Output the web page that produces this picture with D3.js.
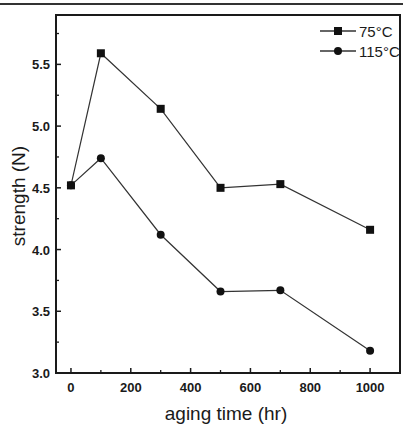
<!DOCTYPE html>
<html>
<head>
<meta charset="utf-8">
<script src="https://cdn.jsdelivr.net/npm/d3@7"></script>
<style>
  body { margin: 0; background: #fff; }
  svg { display: block; font-family: "Liberation Sans", Arial, sans-serif; }
</style>
</head>
<body>
<svg id="chart" width="403" height="427"></svg>
<script>
// aging time (hr) and strength (N) for each temperature
const hours = [0, 100, 300, 500, 700, 1000];
const strength75 = [4.52, 5.59, 5.14, 4.50, 4.53, 4.16];
const strength115 = [4.52, 4.74, 4.12, 3.66, 3.67, 3.18];
const seriesNames = ['75°C', '115°C'];
const xTicks = [0, 200, 400, 600, 800, 1000];
const yTicks = [3.0, 3.5, 4.0, 4.5, 5.0, 5.5];

const margin = { top: 15, right: 3, bottom: 54, left: 56 };
const width = 403, height = 427;
const innerW = width - margin.left - margin.right;
const innerH = height - margin.top - margin.bottom;

const svg = d3.select('#chart');
const ink = '#1a1a1a';

// rule at the very top of the scan
svg.append('line')
    .attr('x1', 0).attr('x2', width)
    .attr('y1', 4).attr('y2', 4)
    .attr('stroke', '#333').attr('stroke-width', 2);

const chart = svg.append('g')
    .attr('transform', `translate(${margin.left}, ${margin.top})`);

const xscale = d3.scaleLinear().domain([-50, 1100]).range([0, innerW]);
const yscale = d3.scaleLinear().domain([3.0, 5.9]).range([innerH, 0]);

// minor ticks
const xMinor = d3.range(100, 1100, 200);
const yMinor = d3.range(3.25, 5.9, 0.5);

chart.append('g').selectAll('line')
    .data(xTicks)
    .join('line')
    .attr('x1', d => xscale(d)).attr('x2', d => xscale(d))
    .attr('y1', innerH).attr('y2', innerH - 5)
    .attr('stroke', ink).attr('stroke-width', 1.5);
chart.append('g').selectAll('line')
    .data(xMinor)
    .join('line')
    .attr('x1', d => xscale(d)).attr('x2', d => xscale(d))
    .attr('y1', innerH).attr('y2', innerH - 3)
    .attr('stroke', ink).attr('stroke-width', 1.3);
chart.append('g').selectAll('line')
    .data(yTicks)
    .join('line')
    .attr('x1', 0).attr('x2', 5)
    .attr('y1', d => yscale(d)).attr('y2', d => yscale(d))
    .attr('stroke', ink).attr('stroke-width', 1.5);
chart.append('g').selectAll('line')
    .data(yMinor)
    .join('line')
    .attr('x1', 0).attr('x2', 3)
    .attr('y1', d => yscale(d)).attr('y2', d => yscale(d))
    .attr('stroke', ink).attr('stroke-width', 1.3);

// frame
chart.append('rect')
    .attr('x', 0).attr('y', 0)
    .attr('width', innerW).attr('height', innerH)
    .attr('fill', 'none')
    .attr('stroke', ink).attr('stroke-width', 2);

// tick labels
chart.append('g').selectAll('text')
    .data(xTicks)
    .join('text')
    .attr('x', d => xscale(d))
    .attr('y', innerH + 19)
    .attr('text-anchor', 'middle')
    .attr('font-size', 13).attr('font-weight', 'bold')
    .attr('fill', ink)
    .text(d => d);
chart.append('g').selectAll('text')
    .data(yTicks)
    .join('text')
    .attr('x', -6)
    .attr('y', d => yscale(d) + 5)
    .attr('text-anchor', 'end')
    .attr('font-size', 13).attr('font-weight', 'bold')
    .attr('fill', ink)
    .text(d => d.toFixed(1));

// axis titles
svg.append('text')
    .attr('x', margin.left + innerW / 2 - 2)
    .attr('y', 420)
    .attr('text-anchor', 'middle')
    .attr('font-size', 19)
    .attr('fill', ink)
    .text('aging time (hr)');
svg.append('text')
    .attr('transform', `translate(25, ${margin.top + innerH / 2 + 2}) rotate(-90)`)
    .attr('text-anchor', 'middle')
    .attr('font-size', 19)
    .attr('fill', ink)
    .text('strength (N)');

// series
const line = d3.line()
    .x((d, i) => xscale(hours[i]))
    .y(d => yscale(d));

const series = [strength75, strength115];
series.forEach((vals, k) => {
    chart.append('path')
        .attr('d', line(vals))
        .attr('fill', 'none')
        .attr('stroke', '#333').attr('stroke-width', 1.2);
    const pts = chart.append('g').selectAll('.pt')
        .data(vals)
        .join(k === 0 ? 'rect' : 'circle');
    if (k === 0) {
        pts.attr('x', (d, i) => xscale(hours[i]) - 4)
            .attr('y', d => yscale(d) - 4)
            .attr('width', 8).attr('height', 8);
    } else {
        pts.attr('cx', (d, i) => xscale(hours[i]))
            .attr('cy', d => yscale(d))
            .attr('r', 4);
    }
    pts.attr('fill', '#111');
});

// legend
const legend = chart.append('g')
    .attr('transform', `translate(${innerW - 80}, 16)`);
seriesNames.forEach((name, k) => {
    const g = legend.append('g').attr('transform', `translate(0, ${k * 20})`);
    g.append('line')
        .attr('x1', 0).attr('x2', 36)
        .attr('y1', 0).attr('y2', 0)
        .attr('stroke', '#333').attr('stroke-width', 1.4);
    if (k === 0) {
        g.append('rect').attr('x', 14).attr('y', -4).attr('width', 8).attr('height', 8).attr('fill', '#111');
    } else {
        g.append('circle').attr('cx', 18).attr('cy', 0).attr('r', 4).attr('fill', '#111');
    }
    g.append('text')
        .attr('x', 39).attr('y', 6)
        .attr('font-size', 15)
        .attr('fill', ink)
        .text(name);
});
</script>
</body>
</html>
